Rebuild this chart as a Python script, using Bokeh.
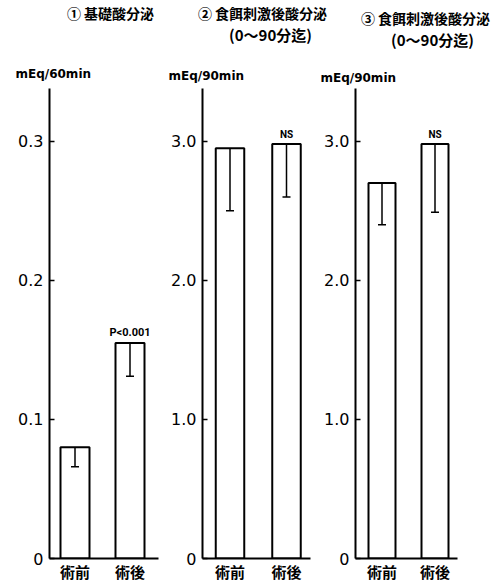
from bokeh.plotting import figure
from bokeh.layouts import column, row
from bokeh.models import Label, Whisker, TeeHead, ColumnDataSource, FixedTicker, Range1d
from bokeh.embed import file_html
from bokeh.resources import INLINE

# ---- data ----
categories = ["術前", "術後"]

basal_mean = [0.080, 0.155]          # ① basal acid output, mEq/60min
basal_low = [0.066, 0.131]
meal_mean = [2.95, 2.98]             # ② meal-stimulated output (0-90 min), mEq/90min
meal_low = [2.50, 2.60]
meal2_mean = [2.70, 2.98]            # ③ meal-stimulated output (0-90 min), mEq/90min
meal2_low = [2.40, 2.49]

ticks_basal = [0, 0.1, 0.2, 0.3]
tick_labels_basal = ["0", "0.1", "0.2", "0.3"]
ticks_meal = [0, 1.0, 2.0, 3.0]
tick_labels_meal = ["0", "1.0", "2.0", "3.0"]

titles = ["① 基礎酸分泌", "② 食餌刺激後酸分泌", "③ 食餌刺激後酸分泌"]
subtitle = "(0～90分迄)"
units = ["mEq/60min", "mEq/90min", "mEq/90min"]
marks = ["P<0.001", "NS", "NS"]

CJK = "Noto Sans CJK JP"
NUM = "DejaVu Sans"

HEADER_H = 88
PANEL_H = 496


def panel(means, lows, ticks, tick_labels, ytop, mark,
          width, left, right, x_start, x_end, bar_w):
    p = figure(width=width, height=PANEL_H, output_backend="svg", toolbar_location=None,
               x_range=Range1d(x_start, x_end), y_range=Range1d(0, ytop),
               min_border_left=left, min_border_right=right,
               min_border_top=0, min_border_bottom=26,
               background_fill_color="white", border_fill_color="white")
    p.outline_line_color = None
    p.grid.visible = False

    xs = list(range(1, len(categories) + 1))
    src = ColumnDataSource(dict(x=xs, top=means, low=lows, cat=categories))
    p.vbar(x="x", top="top", width=bar_w, source=src,
           fill_color="white", line_color="black", line_width=2)
    # one-sided (downward) error bars drawn over the bars
    p.add_layout(Whisker(source=src, base="x", upper="top", lower="low",
                         dimension="height", line_color="black", line_width=1.5,
                         level="overlay", upper_head=None,
                         lower_head=TeeHead(size=8, line_color="black", line_width=1.5)))

    p.add_layout(Label(x=xs[1], y=means[1], text=mark, y_offset=4,
                       text_align="center", text_baseline="bottom",
                       text_font="Roboto", text_font_style="bold",
                       text_font_size="11px" if mark.startswith("P") else "10px",
                       text_color="black"))

    ya = p.yaxis[0]
    ya.ticker = FixedTicker(ticks=ticks)
    ya.major_label_overrides = dict(zip(ticks, tick_labels))
    ya.axis_line_width = 2
    ya.axis_line_color = "black"
    ya.major_tick_in = 5
    ya.major_tick_out = 0
    ya.major_tick_line_width = 1.5
    ya.minor_tick_line_color = None
    ya.minor_tick_out = 0
    ya.major_label_standoff = 6
    ya.major_label_text_font = NUM
    ya.major_label_text_font_size = "16px"
    ya.major_label_text_color = "black"

    xa = p.xaxis[0]
    xa.ticker = FixedTicker(ticks=xs)
    xa.major_label_overrides = dict(zip(xs, categories))
    xa.axis_line_width = 2
    xa.axis_line_color = "black"
    xa.major_tick_line_color = None
    xa.major_tick_out = 0
    xa.minor_tick_line_color = None
    xa.minor_tick_out = 0
    xa.major_label_standoff = 2
    xa.major_label_text_font = CJK
    xa.major_label_text_font_style = "bold"
    xa.major_label_text_font_size = "15px"
    xa.major_label_text_color = "black"
    return p


p1 = panel(basal_mean, basal_low, ticks_basal, tick_labels_basal, 0.338, marks[0],
           width=166, left=49, right=8,
           x_start=1 - 25.5 / 55, x_end=1 - 25.5 / 55 + 109 / 55, bar_w=29 / 55)
p2 = panel(meal_mean, meal_low, ticks_meal, tick_labels_meal, 3.38, marks[1],
           width=154, left=36, right=10,
           x_start=1 - 27.5 / 56.5, x_end=1 - 27.5 / 56.5 + 108 / 56.5, bar_w=28.5 / 56.5)
p3 = panel(meal2_mean, meal2_low, ticks_meal, tick_labels_meal, 3.38, marks[2],
           width=182, left=35, right=45,
           x_start=1 - 26.5 / 53, x_end=1 - 26.5 / 53 + 102 / 53, bar_w=27 / 53)

# header strip with the panel titles and unit labels (pixel coordinates, y downward)
head = figure(width=502, height=HEADER_H, output_backend="svg", toolbar_location=None,
              x_range=Range1d(0, 502), y_range=Range1d(HEADER_H, 0),
              min_border=0, background_fill_color="white", border_fill_color="white")
head.axis.visible = False
head.grid.visible = False
head.outline_line_color = None


def head_text(x, y, text, size, font=CJK, align="center", bold=True):
    head.add_layout(Label(x=x, y=y, text=text, text_align=align, text_baseline="middle",
                          text_font=font, text_font_size=size,
                          text_font_style="bold" if bold else "normal",
                          text_color="black"))


head_text(110, 12, titles[0], "14px")
head_text(262, 12, titles[1], "14px")
head_text(270, 34, subtitle, "15px")
head_text(425, 17, titles[2], "14px")
head_text(432, 39, subtitle, "15px")
head_text(15, 73, units[0], "12px", font=NUM, align="left")
head_text(168, 75, units[1], "12px", font=NUM, align="left")
head_text(320, 77, units[2], "12px", font=NUM, align="left")

layout = column(head, row(p1, p2, p3, spacing=0), spacing=0)

open("out.html", "w").write(file_html(layout, INLINE))
